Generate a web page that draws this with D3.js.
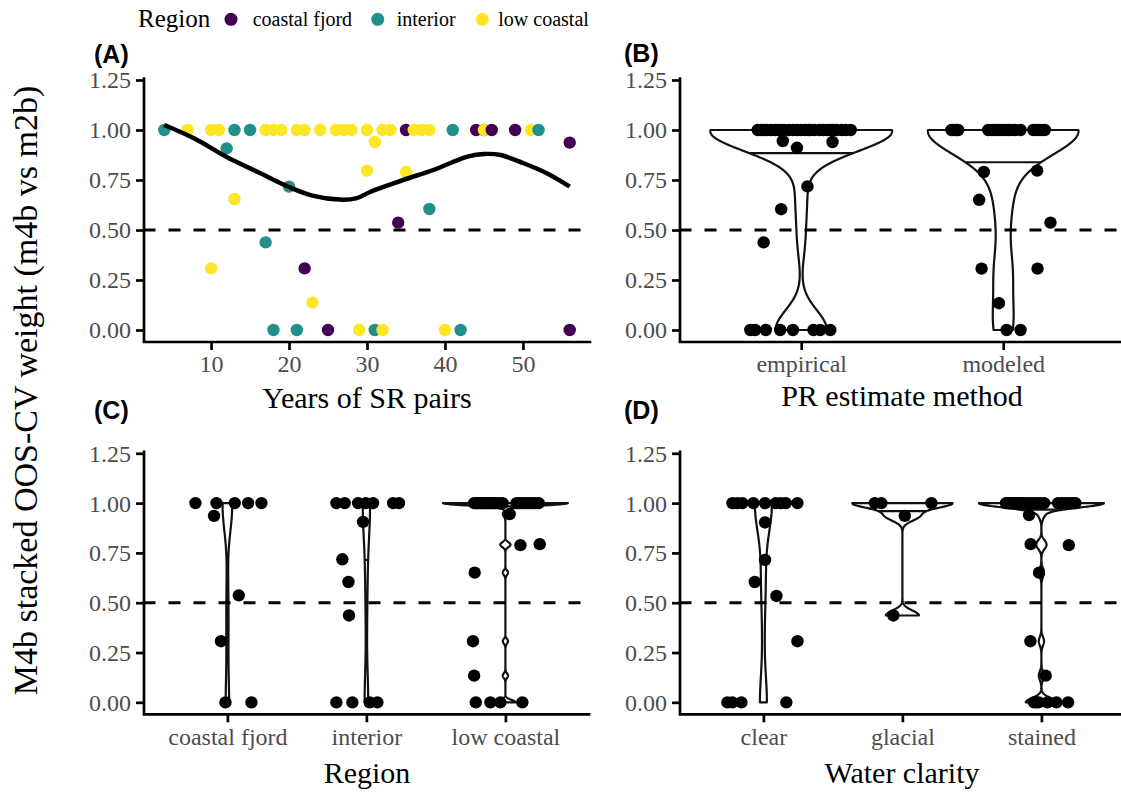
<!DOCTYPE html>
<html><head><meta charset="utf-8">
<script src="https://cdn.jsdelivr.net/npm/d3@7"></script>
<style>
body{margin:0;background:#fff}
svg{display:block}
</style>
</head><body>
<svg id="chart" width="1121" height="794"></svg>
<script>
// ================= DATA =================
const yTicks = [0, 0.25, 0.5, 0.75, 1.0, 1.25];
const yTickLabels = ["0.00", "0.25", "0.50", "0.75", "1.00", "1.25"];
const xTicksA = [10, 20, 30, 40, 50];
const regionNames = ["coastal fjord", "interior", "low coastal"];
const regionColors = ["#440154", "#21908C", "#FDE725"];
const threshold = 0.5;

// Panel A: years of SR pairs vs weight, coloured by region (0=fjord,1=interior,2=low coastal)
const aYears = [4, 7, 10, 11, 13, 15, 17, 18, 19, 21, 22, 24, 26, 27, 28, 30, 32, 33, 35, 36, 37, 38, 41, 44, 45, 45, 46, 49, 51, 52,
  12, 31, 30, 35, 20, 13, 38, 34, 17, 10, 22, 23, 56,
  31, 18, 21, 25, 29, 31, 32, 40, 42, 56];
const aWeight = [1, 1, 1, 1, 1, 1, 1, 1, 1, 1, 1, 1, 1, 1, 1, 1, 1, 1, 1, 1, 1, 1, 1, 1, 1, 1, 1, 1, 1, 1,
  0.908, 0.94, 0.797, 0.79, 0.717, 0.655, 0.605, 0.537, 0.438, 0.308, 0.308, 0.137, 0.937,
  0, 0, 0, 0, 0, 0, 0, 0, 0, 0];
const aRegion = [1, 2, 2, 2, 1, 1, 2, 2, 2, 2, 2, 2, 2, 2, 2, 2, 2, 2, 0, 2, 2, 2, 1, 0, 0, 2, 0, 0, 2, 1,
  1, 2, 2, 2, 1, 2, 1, 0, 1, 2, 0, 2, 0,
  2, 1, 1, 0, 2, 1, 2, 2, 1, 0];
// smoother
const smoothYears = [4, 8, 12, 16, 20, 23, 26.5, 28.6, 30.4, 33.4, 35, 38.5, 41, 43, 45, 47, 50, 53, 56];
const smoothWeight = [1.025, 0.955, 0.865, 0.79, 0.715, 0.672, 0.652, 0.658, 0.69, 0.733, 0.755, 0.80, 0.84, 0.868, 0.88, 0.876, 0.835, 0.785, 0.717];

// Panel B: PR estimate method
const bCategories = ["empirical", "modeled"];
const bEmpiricalWeight = [
  1,1,1,1,1,1,1,1,1,1,1,1,1,1,1,1,1,1,1,1,1,1,1,1,1,1,
  0.945,0.94,0.911,0.718,0.604,0.438,
  0,0,0,0,0,0,0,0];
const bEmpiricalJitter = [
  -0.215,-0.2,-0.185,-0.17,-0.15,-0.13,-0.115,-0.1,-0.085,-0.06,-0.04,-0.02,0.0,0.02,0.035,0.045,0.065,0.09,0.11,0.13,0.145,0.155,0.175,0.2,0.22,0.245,
  -0.091,0.155,-0.021,0.031,-0.099,-0.186,
  -0.252,-0.228,-0.175,-0.104,-0.041,0.061,0.094,0.144];
const bModeledWeight = [
  1,1,1,1,1,1,1,1,1,1,1,1,1,1,1,1,1,1,1,1,
  0.79,0.797,0.651,0.537,0.307,0.307,0.134,
  0,0];
const bModeledJitter = [
  -0.256,-0.248,-0.238,-0.23,-0.223,-0.074,-0.055,-0.041,-0.025,-0.008,0.01,0.025,0.04,0.058,0.086,0.149,0.165,0.178,0.19,0.206,
  -0.096,0.168,-0.119,0.234,-0.107,0.170,-0.021,
  0.017,0.086];
const bBandwidth = [0.1, 0.12];

// Panel C: Region
const cCategories = ["coastal fjord", "interior", "low coastal"];
const cFjordWeight = [1,1,1,1,1, 0.936,0.537,0.307, 0,0];
const cFjordJitter = [-0.230,-0.079,0.053,0.149,0.245, -0.096,0.082,-0.046, -0.014,0.173];
const cInteriorWeight = [1,1,1,1,1,1,1, 0.906,0.718,0.604,0.436, 0,0,0,0];
const cInteriorJitter = [-0.216,-0.156,-0.060,-0.005,0.048,0.192,0.235, -0.024,-0.173,-0.129,-0.125, -0.216,-0.101,0.024,0.079];
const cLowWeight = [
  1,1,1,1,1,1,1,1,1,1,1,1,1,1,1,1,1,1,1,1,1,1,1,1,
  0.945,0.789,0.794,0.651,0.307,0.134,
  0,0,0,0];
const cLowJitter = [
  -0.225,-0.21,-0.2,-0.185,-0.175,-0.16,-0.15,-0.135,-0.125,-0.11,-0.1,-0.085,-0.07,-0.045,-0.02,0.08,0.1,0.12,0.14,0.16,0.18,0.2,0.22,0.24,
  0.031,0.108,0.247,-0.221,-0.233,-0.225,
  -0.213,-0.108,-0.036,0.122];
const cBandwidth = [0.13, 0.16, 0.012];

// Panel D: Water clarity
const dCategories = ["clear", "glacial", "stained"];
const dClearWeight = [1,1,1,1,1,1,1,1,1, 0.903,0.715,0.604,0.534,0.307, 0,0,0,0];
const dClearJitter = [-0.223,-0.187,-0.151,-0.072,0.012,0.089,0.125,0.161,0.245, 0.012,0.012,-0.062,0.094,0.245, -0.259,-0.223,-0.158,0.165];
const dGlacialWeight = [1,1,1, 0.936,0.436];
const dGlacialJitter = [-0.199,-0.151,0.209, 0.017,-0.065];
const dStainedWeight = [
  1,1,1,1,1,1,1,1,1,1,1,1,1,1,1,1,1,1,1,1,1,1,1,1,
  0.94,0.794,0.789,0.651,0.307,0.134,
  0,0,0,0,0,0];
const dStainedJitter = [
  -0.255,-0.24,-0.23,-0.215,-0.205,-0.19,-0.18,-0.165,-0.155,-0.14,-0.13,-0.105,-0.08,-0.055,-0.03,-0.005,0.02,0.12,0.145,0.17,0.195,0.22,0.235,0.245,
  -0.089,-0.077,0.197,-0.017,-0.079,0.031,
  -0.053,-0.019,0.043,0.108,0.192,-0.036];
const dBandwidth = [0.135, 0.025, 0.022];

// ================= DRAWING =================
const svg = d3.select("#chart");
const serif = "'Liberation Serif', 'Times New Roman', serif";
const sans = "'Liberation Sans', Arial, sans-serif";
const tickColor = "#4d4d4d";
const axisW = 2.7;

function yAxis(g, y, x0) {
  const ax = g.append("g").attr("transform", `translate(${x0},0)`)
    .call(d3.axisLeft(y).tickValues(yTicks).tickFormat((d, i) => yTickLabels[i]).tickSize(8).tickPadding(5));
  ax.select(".domain").remove();
  ax.selectAll(".tick line").attr("stroke", "#000").attr("stroke-width", axisW);
  ax.selectAll(".tick text").attr("font-family", serif).attr("font-size", 24).attr("fill", tickColor).attr("dy", "0.33em");
}
function xAxis(g, x, y0, values, fmt) {
  const ax = g.append("g").attr("transform", `translate(0,${y0})`)
    .call(d3.axisBottom(x).tickValues(values).tickFormat(fmt).tickSize(8).tickPadding(5));
  ax.select(".domain").remove();
  ax.selectAll(".tick line").attr("stroke", "#000").attr("stroke-width", axisW);
  ax.selectAll(".tick text").attr("font-family", serif).attr("font-size", 24).attr("fill", tickColor).attr("dy", "0.72em");
}
function frame(g, x0, x1, y0, y1) {
  g.append("path").attr("d", `M${x0},${y1 - axisW/2}V${y0}H${x1}`)
    .attr("fill", "none").attr("stroke", "#000").attr("stroke-width", axisW).attr("stroke-linecap", "square");
}
function hline(g, y, x0, x1) {
  g.append("line").attr("x1", x0).attr("x2", x1).attr("y1", y(threshold)).attr("y2", y(threshold))
    .attr("stroke", "#000").attr("stroke-width", 3).attr("stroke-dasharray", "12,13");
}
function xTitle(g, text, cx, yb) {
  g.append("text").attr("x", cx).attr("y", yb).attr("text-anchor", "middle")
    .attr("font-family", serif).attr("font-size", 30).attr("fill", "#000").text(text);
}
function panelLabel(g, text, x, yb) {
  g.append("text").attr("x", x).attr("y", yb).attr("font-family", sans).attr("font-weight", "bold")
    .attr("font-size", 25).attr("fill", "#000").text(text);
}

// Gaussian KDE (trimmed to data range, 512 points); ggplot-like violins with scale = "area"
function kde(values, bw) {
  const lo = d3.min(values), hi = d3.max(values), n = values.length;
  const grid = d3.range(512).map(i => lo + (hi - lo) * i / 511);
  const c = 1 / (n * bw * Math.sqrt(2 * Math.PI));
  return grid.map(t => ({ y: t, d: c * d3.sum(values, v => Math.exp(-0.5 * ((t - v) / bw) ** 2)) }));
}
function violinPanel(g, weightsByGroup, bws, x, y) {
  const dens = weightsByGroup.map((w, k) => kde(w, bws[k]));
  const maxD = d3.max(dens, ds => d3.max(ds, p => p.d));
  const half = 0.45 * (x(2) - x(1));
  dens.forEach((ds, k) => {
    const cx = x(k + 1);
    const pts = ds.map(p => [cx - half * p.d / maxD, y(p.y)])
      .concat(ds.slice().reverse().map(p => [cx + half * p.d / maxD, y(p.y)]));
    g.append("path").attr("d", d3.line()(pts) + "Z")
      .attr("fill", "#fff").attr("stroke", "#111").attr("stroke-width", 2.2).attr("stroke-linejoin", "round");
    // median line (draw_quantiles = 0.5) from the density's cumulative
    const tot = d3.sum(ds, p => p.d);
    let cum = 0, q = null, wq = 0;
    for (let i = 0; i < ds.length && q === null; i++) {
      const prev = cum; cum += ds[i].d / tot;
      if (cum >= 0.5) {
        if (i === 0) { q = ds[0].y; wq = ds[0].d; }
        else {
          const f = (0.5 - prev) / (cum - prev);
          q = ds[i - 1].y + f * (ds[i].y - ds[i - 1].y);
          wq = ds[i - 1].d + f * (ds[i].d - ds[i - 1].d);
        }
      }
    }
    const hw = half * wq / maxD;
    g.append("line").attr("x1", cx - hw).attr("x2", cx + hw).attr("y1", y(q)).attr("y2", y(q))
      .attr("stroke", "#111").attr("stroke-width", 2.2);
  });
}
function jitterPoints(g, weightsByGroup, jittersByGroup, x, y) {
  const pts = [];
  weightsByGroup.forEach((ws, k) => ws.forEach((w, i) => pts.push({ g: k, w: w, j: jittersByGroup[k][i] })));
  g.append("g").selectAll("circle").data(pts).join("circle")
    .attr("cx", p => x(p.g + 1 + p.j)).attr("cy", p => y(p.w))
    .attr("r", 6.2).attr("fill", "#000");
}

// ---------- Legend ----------
const leg = svg.append("g");
leg.append("text").attr("x", 138).attr("y", 27).attr("font-family", serif).attr("font-size", 25).text("Region");
const legDotX = [231, 377.7, 482.3];
const legTextX = [252.7, 396.7, 498.3];
regionNames.forEach((r, i) => {
  leg.append("circle").attr("cx", legDotX[i]).attr("cy", 19.3).attr("r", 6.5).attr("fill", regionColors[i]);
  leg.append("text").attr("x", legTextX[i]).attr("y", 25.5).attr("font-family", serif).attr("font-size", 20).text(r);
});

// ---------- Y title ----------
svg.append("text").attr("transform", "translate(37,390.5) rotate(-90)").attr("text-anchor", "middle")
  .attr("font-family", serif).attr("font-size", 34).attr("fill", "#000")
  .text("M4b stacked OOS-CV weight (m4b vs m2b)");

// ---------- Panel A ----------
{
  const g = svg.append("g");
  const x = d3.scaleLinear().domain([1.4, 58.6]).range([144, 590]);
  const y = d3.scaleLinear().domain([-0.06, 1.25]).range([342, 80]);
  hline(g, y, 143.5, 590);
  g.append("g").selectAll("circle").data(aYears).join("circle")
    .attr("cx", d => x(d)).attr("cy", (d, i) => y(aWeight[i])).attr("r", 6.2)
    .attr("fill", (d, i) => regionColors[aRegion[i]]);
  g.append("path").datum(smoothYears.map((d, i) => [x(d), y(smoothWeight[i])]))
    .attr("d", d3.line().curve(d3.curveCatmullRom.alpha(0.5)))
    .attr("fill", "none").attr("stroke", "#000").attr("stroke-width", 4.5);
  frame(g, 144, 590, 342, 80);
  yAxis(g, y, 144);
  xAxis(g, x, 342, xTicksA, d => d);
  xTitle(g, "Years of SR pairs", 367, 408);
  panelLabel(g, "(A)", 94, 63);
}

// ---------- Panel B ----------
{
  const g = svg.append("g");
  const x = d3.scaleLinear().domain([0.4, 2.6]).range([680, 1124.4]);
  const y = d3.scaleLinear().domain([-0.06, 1.25]).range([342, 80]);
  const W = [bEmpiricalWeight, bModeledWeight], J = [bEmpiricalJitter, bModeledJitter];
  violinPanel(g, W, bBandwidth, x, y);
  hline(g, y, 679.5, 1125);
  jitterPoints(g, W, J, x, y);
  frame(g, 680, 1125, 342, 80);
  yAxis(g, y, 680);
  xAxis(g, x, 342, [1, 2], d => bCategories[d - 1]);
  xTitle(g, "PR estimate method", 902, 406);
  panelLabel(g, "(B)", 624, 62);
}

// ---------- Panel C ----------
{
  const g = svg.append("g");
  const x = d3.scaleLinear().domain([0.4, 3.6]).range([144, 588.8]);
  const y = d3.scaleLinear().domain([-0.06, 1.25]).range([714.3, 453.3]);
  const W = [cFjordWeight, cInteriorWeight, cLowWeight], J = [cFjordJitter, cInteriorJitter, cLowJitter];
  violinPanel(g, W, cBandwidth, x, y);
  hline(g, y, 143.5, 589);
  jitterPoints(g, W, J, x, y);
  frame(g, 144, 589, 714.3, 453.3);
  yAxis(g, y, 144);
  xAxis(g, x, 714.3, [1, 2, 3], d => cCategories[d - 1]);
  xTitle(g, "Region", 367, 783);
  panelLabel(g, "(C)", 94, 419);
}

// ---------- Panel D ----------
{
  const g = svg.append("g");
  const x = d3.scaleLinear().domain([0.4, 3.6]).range([680, 1124.8]);
  const y = d3.scaleLinear().domain([-0.06, 1.25]).range([714.3, 453.3]);
  const W = [dClearWeight, dGlacialWeight, dStainedWeight], J = [dClearJitter, dGlacialJitter, dStainedJitter];
  violinPanel(g, W, dBandwidth, x, y);
  hline(g, y, 679.5, 1125);
  jitterPoints(g, W, J, x, y);
  frame(g, 680, 1125, 714.3, 453.3);
  yAxis(g, y, 680);
  xAxis(g, x, 714.3, [1, 2, 3], d => dCategories[d - 1]);
  xTitle(g, "Water clarity", 902, 783);
  panelLabel(g, "(D)", 624, 419);
}
</script>
</body></html>
